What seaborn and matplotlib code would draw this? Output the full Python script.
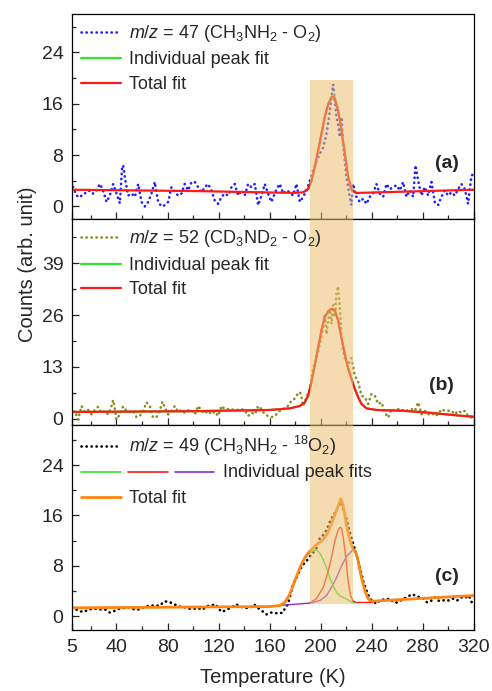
import matplotlib
matplotlib.use("Agg")
import matplotlib.pyplot as plt
import pandas as pd
import seaborn as sns
from matplotlib.lines import Line2D
from matplotlib.text import Text
from matplotlib.ticker import MultipleLocator


# ---- panel (a): m/z = 47 ----
temp_a = [5, 6, 8.7, 11.3, 13.9, 16.5, 19.1, 21.7, 24.3, 26.9, 29.5, 32.2, 34.8, 37.4, 40, 42.6,
          44.4, 45.2, 46.5, 49.1, 51.7, 54.4, 57, 59.6, 62.2, 64.8, 67.4, 70, 72.6, 75.3, 77.9,
          80.5, 83.1, 85.7, 88.3, 90.9, 93.5, 96.1, 98.8, 101.4, 104, 106.6, 109.2, 111.8, 114.4,
          117, 119.6, 122.3, 124.9, 127.5, 130.1, 132.7, 135.3, 137.9, 140.5, 143.1, 145.8, 148.4,
          151, 153.6, 156.2, 158.8, 161.4, 165.4, 168, 170.6, 173.2, 175.8, 178.4, 181, 183.7,
          186.3, 188.9, 191.5, 194.1, 196.7, 199.3, 202, 204.6, 207.2, 208.5, 209.8, 211.1, 212.4,
          213.7, 215, 216.3, 217.6, 218.9, 220.2, 222.8, 224.1, 225.4, 228, 230.7, 233.3, 235.9,
          238.5, 241.1, 243.7, 246.3, 249, 251.6, 254.2, 256.8, 259.4, 262, 264.6, 267.2, 269.8,
          272.5, 274.3, 276.4, 279, 281.6, 284.2, 286.8, 289.4, 292, 294.6, 297.3, 299.9, 302.5,
          305.1, 307.7, 310.3, 313, 315.5, 318.2, 320]
counts_a = [3.8, 3.0, 1.7, 1.4, 2.0, 2.1, 2.5, 2.0, 2.5, 3.5, 2.5, 0.7, 1.7, 3.5, 2.0, 0.5,
            6.1, 6.4, 4.6, 1.7, 2.0, 1.5, 3.5, 0.7, 0.0, 0.7, 2.0, 3.8, 0.7, 0.0, 0.2,
            0.7, 3.0, 2.2, 1.7, 2.0, 3.5, 2.5, 3.8, 3.8, 3.0, 2.2, 3.0, 3.5, 2.5,
            0.9, 0.4, 1.5, 2.0, 1.7, 3.0, 3.5, 1.7, 2.5, 1.7, 3.5, 3.0, 3.5,
            0.2, 1.7, 3.5, 2.0, 0.7, 2.7, 3.5, 2.0, 2.5, 2.2, 1.7, 3.5, 0.7,
            1.5, 2.5, 4.0, 5.6, 7.1, 8.2, 9.2, 11.3, 14.9, 17.0, 19.0, 16.5, 13.9,
            12.8, 10.8, 13.9, 9.7, 7.1, 4.6, 1.5, 0.2, 3.5, 1.5, 0.7, 1.2, 0.4,
            1.5, 2.0, 3.5, 2.0, 1.5, 3.5, 2.7, 3.0, 3.3, 2.5, 3.8, 1.5, 2.5,
            1.5, 6.4, 4.0, 1.7, 3.0, 1.7, 3.8, 0.7, 0.2, 1.5, 2.5, 1.7, 2.2,
            1.7, 2.7, 3.5, 2.7, 0.4, 4.8, 5.1]
fit_temp_a = [5, 100, 180, 186.3, 190.2, 192.8, 195.4, 198, 200.6, 203.2, 205.9, 208.5, 209.8,
              211.1, 213.7, 216.3, 219, 221.5, 224.1, 226.7, 228, 320]
fit_total_a = [2.6, 2.4, 2.1, 2.2, 2.7, 4.0, 6.1, 8.7, 11.3, 13.9, 15.9, 17.0, 17.1,
               16.7, 14.9, 11.8, 8.2, 4.6, 2.7, 2.2, 2.1, 2.6]
peak_temp_a = [186.3, 190.2, 192.8, 195.4, 198, 200.6, 203.2, 205.9, 208.5, 209.8, 211.1,
               213.7, 216.3, 219, 221.5, 224.1, 226.7]
peak_fit_a = [2.2, 2.7, 4.0, 6.1, 8.7, 11.3, 13.9, 15.9, 17.1, 17.4, 17.0,
              15.1, 11.9, 8.2, 4.6, 2.7, 2.2]

# ---- panel (b): m/z = 52 ----
temp_b = [5, 7.3, 9.9, 12.6, 15.2, 17.8, 20.4, 23, 25.6, 28.2, 30.9, 33.5, 36.1, 37.4, 38.7, 40,
          42.6, 45.2, 47.8, 50.4, 53, 55.7, 58.3, 60.9, 63.5, 66.1, 68.7, 71.3, 73.9, 76, 77.9,
          80.5, 83.1, 85.7, 88.3, 90.9, 93.5, 96.1, 98.8, 101.4, 104, 106.6, 109.2, 111.8, 114.4,
          117, 119.6, 122.3, 124.9, 127.5, 130.1, 132.7, 135.3, 137.9, 140.5, 143.1, 145.8, 148.4,
          151, 153.6, 156.2, 158.8, 161.4, 164.1, 168, 170.6, 173.2, 175.8, 178.4, 181, 183.7,
          185, 186.3, 188.9, 191.5, 194.1, 196.7, 199.3, 202, 203.2, 204.6, 205.9, 207.2, 208.5,
          209.8, 211.1, 212.4, 213.7, 215, 216.3, 217.6, 218.9, 220.2, 221.5, 224.1, 226.7, 229.4,
          232, 234.6, 237.2, 239.8, 242.4, 245, 247.6, 250.3, 252.9, 255.5, 258.1, 260.7, 263.3,
          265.9, 268.5, 271.1, 273.8, 276.4, 279, 281.6, 284.2, 286.8, 289.4, 292, 294.6, 297.3,
          299.9, 302.5, 305.1, 307.7, 310.3, 313, 315.5, 318.2]
counts_b = [0.7, 2.0, -0.2, 3.2, 1.7, 2.2, 1.1, 2.2, 3.0, 1.5, 2.0, 1.1, 3.2, 4.7, 2.4, -0.2,
            1.1, 3.1, 2.0, 1.7, 2.0, 0.4, 0.7, 2.0, 4.1, 3.2, 0.3, 0.4, 2.0, 4.3, 2.8,
            1.1, 2.0, 3.2, 1.7, 2.2, 1.5, 2.1, 2.2, 1.1, 3.2, 2.0, 1.3, 2.0, 1.1,
            1.8, 0.7, 3.2, 2.4, 2.4, 2.2, 2.4, 2.2, 2.4, 2.2, 0.7, 1.5, 1.1,
            3.2, 2.4, 1.1, 0.7, 0.4, 0.7, 2.0, 2.4, 2.6, 4.1, 4.5, 5.8, 6.7,
            5.4, 3.2, 5.4, 7.5, 12.6, 15.2, 18.6, 22.9, 26.3, 21.2, 24.6, 27.2, 23.8,
            28.5, 25.5, 31.5, 33.2, 28.0, 21.2, 16.9, 15.2, 14.4, 13.5, 15.2, 10.9, 9.2,
            5.8, 5.4, 3.7, 6.2, 5.8, 3.7, 4.1, 1.5, 0.3, 2.4, 2.0, 2.4, 2.0,
            2.4, 2.0, 2.4, 2.0, 4.1, 1.1, 2.0, 1.1, 1.5, 0.7, 1.1, 2.4, 2.0,
            2.0, 2.0, 1.1, 2.0, 1.5, 2.0, 0.7, 0.3]
fit_temp_b = [5, 100, 160, 175.8, 183.7, 187.6, 190.2, 192.8, 195.4, 198, 200.6, 203.2, 205.9,
              208.5, 211.1, 213.7, 216.3, 219, 221.5, 224.1, 226.7, 229.4, 232, 235.9, 243.7,
              264.6, 285.5, 306.4, 320]
fit_total_b = [1.7, 1.9, 2.2, 2.6, 3.2, 4.1, 5.8, 9.2, 13.5, 17.8, 22.1, 25.5, 26.9,
               27.6, 27.2, 24.6, 20.3, 16.1, 12.6, 10.1, 7.5, 5.4, 3.7, 2.6, 2.2,
               2.0, 1.5, 0.85, 0.5]

# ---- panel (c): m/z = 49 ----
temp_c = [5, 7.3, 11.3, 14.4, 17.8, 21.7, 25.6, 28.2, 30.9, 34.8, 38.2, 42.1, 46.5, 50.4, 54.4,
          58.3, 62.2, 66.1, 70, 73.9, 77.3, 80.5, 84.4, 87.5, 90.9, 93.5, 96.9, 100.6, 104, 107.4,
          110.5, 113.9, 117.8, 120.4, 122.8, 126.2, 129.6, 134, 136.6, 140.5, 144.5, 147.9, 151,
          154.4, 157.5, 161.4, 165.4, 170.1, 171.9, 174.5, 177.1, 178.4, 181, 183.7, 186.3, 188.9,
          191.5, 194.1, 196.7, 199.3, 202, 204.6, 207.2, 209.8, 212.4, 215, 216.3, 217.6, 220.2,
          222.8, 225.4, 228, 230.7, 233.3, 235.9, 238.5, 241.1, 243.7, 246.9, 250.3, 254.2, 257.3,
          260.7, 264.6, 267.8, 271.1, 274.5, 277.7, 280.8, 283.4, 286.8, 289.4, 292, 294.6, 297.3,
          300.7, 303.8, 306.9, 310.3, 313, 316.1, 319.5]
counts_c = [1.35, 1.2, 0.8, 0.7, 1.05, 1.2, 1.2, 1.05, 1.1, 0.6, 0.85, 1.2, 1.35, 1.4, 1.05,
            1.1, 1.55, 1.7, 1.7, 1.7, 2.35, 2.35, 2.0, 1.7, 1.45, 1.45, 1.2, 1.2, 1.3, 1.05,
            1.6, 1.7, 1.9, 1.1, 0.7, 1.05, 1.35, 1.9, 1.55, 1.35, 1.3, 1.9, 1.3,
            0.8, 0.3, 0.6, 0.5, 0.55, 1.2, 2.0, 4.1, 5.1, 6.1, 7.4, 8.2, 8.75,
            9.5, 10.1, 10.8, 12.4, 12.9, 13.7, 15.0, 16.0, 16.8, 17.9, 18.1, 17.1, 15.5,
            13.4, 11.6, 9.8, 7.7, 5.6, 4.1, 2.8, 2.4, 2.0, 2.65, 2.65, 2.8, 2.2,
            2.2, 2.8, 3.0, 3.5, 3.3, 3.0, 2.8, 2.2, 2.5, 3.0, 2.5, 2.4, 2.6,
            2.5, 2.8, 2.5, 3.0, 2.9, 3.3, 1.7]
fit_temp_c = [5, 160, 168, 171.9, 175.8, 179.7, 183.7, 187.6, 190.2, 192.8, 196.7, 200.6, 204.6,
              208.5, 212.4, 215.8, 217.6, 220.2, 222.8, 225.4, 227.5, 229.4, 232, 234.6, 237.2,
              239.8, 320]
fit_total_c = [1.35, 1.55, 1.7, 2.2, 3.5, 5.6, 7.7, 9.3, 10.05, 10.6, 11.35, 11.9, 12.9,
               14.7, 16.8, 18.65, 17.6, 14.5, 12.1, 10.6, 10.3, 8.75, 6.1, 4.1, 2.8,
               2.4, 3.3]
peak1_temp_c = [168, 171.9, 175.8, 179.7, 183.7, 187.6, 191, 194.1, 196.7, 199.3, 202, 204.6,
                207.2, 209.8, 212.4, 215, 217.6, 221.5, 225.4, 227]
peak1_fit_c = [1.7, 2.2, 3.5, 5.6, 7.7, 9.3, 10.0, 10.4, 10.5, 10.05, 9.0, 7.7,
               6.1, 4.85, 3.8, 3.3, 3.0, 2.6, 2.2, 2.1]
peak2_temp_c = [191.5, 196.7, 202, 205.9, 208.5, 211, 213.7, 215, 216.3, 217.6, 219.7, 221.5,
                223.4, 225.4, 228, 241]
peak2_fit_c = [2.1, 2.8, 4.6, 7.2, 9.3, 11.9, 13.7, 14.1, 14.0, 12.7, 9.3, 5.6,
               3.3, 2.4, 2.2, 2.2]
peak3_temp_c = [165.5, 191.5, 199.3, 204.6, 208.5, 212.4, 216.3, 220.2, 224.1, 226, 227.5,
                229.4, 232, 234.6, 237.2, 240]
peak3_fit_c = [1.7, 2.1, 2.5, 3.3, 4.6, 6.1, 8.0, 9.5, 10.3, 10.6, 10.05,
               8.5, 6.1, 4.1, 2.8, 2.3]

band_temp = [192, 225]

sns.set_style("ticks")
plt.rcParams["font.family"] = ["Liberation Sans", "DejaVu Sans"]
plt.rcParams["mathtext.fontset"] = "custom"
plt.rcParams["mathtext.rm"] = "Liberation Sans"
plt.rcParams["mathtext.it"] = "Liberation Sans:italic"
plt.rcParams["mathtext.bf"] = "Liberation Sans:bold"

BLUE = "#1f1fff"
OLIVE = "#8a8a1a"
GREEN = "#2ee62e"
RED = "#ff1a1a"
PURPLE = "#8a2be2"
ORANGE = "#ff8410"
BAND = "#ebc070"
DOTS = (0, (0.1, 1.8))
DOT_KW = dict(lw=1.9, linestyle=DOTS, dash_capstyle="round")


class TripleLine:
    def __init__(self, lines, label):
        self.lines = lines
        self.label = label


class TripleLineHandler:
    def legend_artist(self, legend, orig_handle, fontsize, handlebox):
        w = handlebox.width
        yd = handlebox.ydescent
        h = handlebox.height
        y = (h - yd) / 2
        gap = 0.4 * fontsize
        seg = None
        for i, ln in enumerate(orig_handle.lines):
            x0 = i * (w + gap)
            seg = Line2D([x0, x0 + w], [y, y], color=ln.get_color(), lw=ln.get_linewidth())
            handlebox.add_artist(seg)
        txt = Text(3 * w + 2 * gap + legend.handletextpad * fontsize, y, orig_handle.label,
                   fontsize=fontsize, va="center", ha="left")
        handlebox.add_artist(txt)
        return seg


fig, axes = plt.subplots(3, 1, figsize=(4.92, 6.91), dpi=100, sharex=True)
fig.subplots_adjust(left=0.146, right=0.963, top=0.980, bottom=0.088, hspace=0)
ax_a, ax_b, ax_c = axes

leg_kw = dict(loc="upper left", frameon=False, fontsize=13, handlelength=2.2,
              handletextpad=0.45, labelspacing=0.42, borderaxespad=0.4, borderpad=0.1)

# (a)
sns.lineplot(x=temp_a, y=counts_a, ax=ax_a, color=BLUE, sort=False, **DOT_KW)
sns.lineplot(x=peak_temp_a, y=peak_fit_a, ax=ax_a, color=GREEN, lw=1.5, sort=False)
sns.lineplot(x=fit_temp_a, y=fit_total_a, ax=ax_a, color=RED, lw=1.6, sort=False)
ax_a.fill_between(band_temp, -2, 19.7, color=BAND, alpha=0.55, lw=0, zorder=5)
ax_a.set_ylim(-2, 30)
ax_a.yaxis.set_major_locator(MultipleLocator(8))
ax_a.yaxis.set_minor_locator(MultipleLocator(4))
ax_a.legend(handles=[Line2D([], [], color=BLUE, **DOT_KW),
                     Line2D([], [], color=GREEN, lw=1.6),
                     Line2D([], [], color=RED, lw=1.6)],
            labels=[r"$m/z$ = 47 (CH$_3$NH$_2$ - O$_2$)", "Individual peak fit", "Total fit"],
            **leg_kw)
ax_a.text(0.963, 0.27, "(a)", transform=ax_a.transAxes, ha="right", va="center",
          fontsize=14, fontweight="bold")

# (b)
sns.lineplot(x=temp_b, y=counts_b, ax=ax_b, color=OLIVE, sort=False, **DOT_KW)
sns.lineplot(x=fit_temp_b, y=fit_total_b, ax=ax_b, color=GREEN, lw=1.5, sort=False)
sns.lineplot(x=fit_temp_b, y=fit_total_b, ax=ax_b, color=RED, lw=1.6, sort=False)
ax_b.fill_between(band_temp, -1.5, 50, color=BAND, alpha=0.55, lw=0, zorder=5)
ax_b.set_ylim(-1.5, 50)
ax_b.yaxis.set_major_locator(MultipleLocator(13))
ax_b.yaxis.set_minor_locator(MultipleLocator(6.5))
ax_b.legend(handles=[Line2D([], [], color=OLIVE, **DOT_KW),
                     Line2D([], [], color=GREEN, lw=1.6),
                     Line2D([], [], color=RED, lw=1.6)],
            labels=[r"$m/z$ = 52 (CD$_3$ND$_2$ - O$_2$)", "Individual peak fit", "Total fit"],
            **leg_kw)
ax_b.text(0.95, 0.19, "(b)", transform=ax_b.transAxes, ha="right", va="center",
          fontsize=14, fontweight="bold")

# (c)
sns.lineplot(x=temp_c, y=counts_c, ax=ax_c, color="black", sort=False, **DOT_KW)
sns.lineplot(x=peak3_temp_c, y=peak3_fit_c, ax=ax_c, color=PURPLE, lw=1.0, sort=False)
sns.lineplot(x=peak1_temp_c, y=peak1_fit_c, ax=ax_c, color=GREEN, lw=1.0, sort=False)
sns.lineplot(x=peak2_temp_c, y=peak2_fit_c, ax=ax_c, color=RED, lw=1.0, sort=False)
sns.lineplot(x=fit_temp_c, y=fit_total_c, ax=ax_c, color=ORANGE, lw=2.0, sort=False)
ax_c.fill_between(band_temp, 2.0, 31, color=BAND, alpha=0.55, lw=0, zorder=5)
ax_c.set_ylim(-2.2, 30.4)
ax_c.yaxis.set_major_locator(MultipleLocator(8))
ax_c.yaxis.set_minor_locator(MultipleLocator(4))
triple = TripleLine([Line2D([], [], color=GREEN, lw=1.2), Line2D([], [], color=RED, lw=1.2),
                     Line2D([], [], color=PURPLE, lw=1.2)], "Individual peak fits")
ax_c.legend(handles=[Line2D([], [], color="black", **DOT_KW), triple,
                     Line2D([], [], color=ORANGE, lw=2.0)],
            labels=[r"$m/z$ = 49 (CH$_3$NH$_2$ - $^{18}$O$_2$)", "", "Total fit"],
            handler_map={TripleLine: TripleLineHandler()}, **leg_kw)
ax_c.text(0.963, 0.26, "(c)", transform=ax_c.transAxes, ha="right", va="center",
          fontsize=14, fontweight="bold")

for ax in axes:
    ax.set_xlim(5, 320)
    ax.set_xticks([5, 40, 80, 120, 160, 200, 240, 280, 320])
    ax.xaxis.set_minor_locator(MultipleLocator(20))
    ax.tick_params(which="both", direction="in", top=False, right=False, width=0.9,
                   labelsize=14, pad=6)
    ax.tick_params(which="major", length=5)
    ax.tick_params(which="minor", length=3)
    for sp in ax.spines.values():
        sp.set_visible(True)
        sp.set_linewidth(0.9)
        sp.set_color("black")
    ax.set_ylabel("")
    ax.set_xlabel("")

ax_c.set_xlabel("Temperature (K)", fontsize=14.5, labelpad=9)
fig.text(0.055, 0.618, "Counts (arb. unit)", rotation=90, ha="center", va="center",
         fontsize=14.5)

fig.savefig("out.png", dpi=100)
